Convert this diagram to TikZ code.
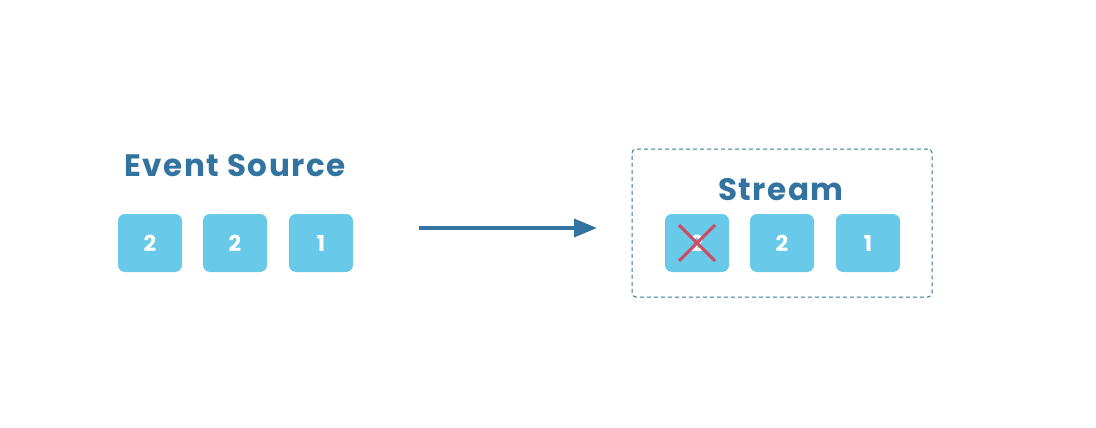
\documentclass[tikz,border=0pt]{standalone}
\usepackage{fontspec}
\setmainfont{Poppins}
\newfontfamily\titlefont[LetterSpace=5]{Poppins}
\usetikzlibrary{arrows.meta}
\definecolor{titleblue}{HTML}{33739F}
\definecolor{boxcyan}{HTML}{68C9E8}
\definecolor{crossred}{HTML}{CF4A63}
\begin{document}
\begin{tikzpicture}[x=1pt,y=-1pt,
	event/.style={shape=rectangle,rounded corners=7pt,fill=boxcyan,text=white,minimum width=64pt,minimum height=58pt,inner sep=0pt,font=\fontsize{22}{22}\selectfont\bfseries},
	title/.style={text=titleblue,inner sep=0pt,font=\fontsize{31}{31}\titlefont\bfseries},
	frame/.style={shape=rectangle,rounded corners=4pt,draw=titleblue,dashed,line width=1pt,dash pattern=on 4pt off 3pt,minimum width=300pt,minimum height=148pt,inner sep=0pt}]
	\useasboundingbox (0,0) rectangle (1096,428);

	\node[title] (src) at (235, 166)     {Event Source};

	\node[event] (es1) at (150, 243)     {2};
	\node[event] (es2) at (235, 243)     {2};
	\node[event] (es3) at (321, 243)     {1};

	\node[frame] (box) at (782, 223)     {};
	\node[title] (strm) at (781, 190)     {Stream};

	\node[event] (st1) at (697, 243)     {2};
	\node[event] (st2) at (782, 243)     {2};
	\node[event] (st3) at (868, 243)     {1};

	\coordinate (arrstart) at (419, 228);
	\coordinate (arrend) at (597, 228);

	\draw[titleblue,line width=3.5pt,-{Triangle[length=23pt,width=18pt]}] (arrstart) -- (arrend);
	\draw[crossred,line width=3pt] ([shift={(-18,-18)}]st1.center) -- ([shift={(18,18)}]st1.center);
	\draw[crossred,line width=3pt] ([shift={(18,-18)}]st1.center) -- ([shift={(-18,18)}]st1.center);
\end{tikzpicture}
\end{document}
